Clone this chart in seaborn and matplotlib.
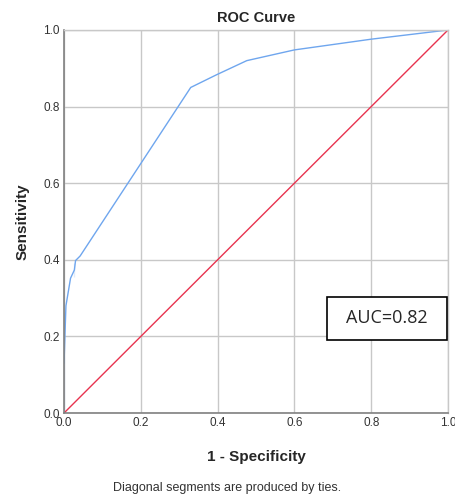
import matplotlib.pyplot as plt
import seaborn as sns
import pandas as pd
from matplotlib.patches import Rectangle

# ROC points
fpr = [0.0, 0.0, 0.005, 0.017, 0.027, 0.027, 0.030, 0.042, 0.33, 0.397, 0.476, 0.60, 0.80, 1.0]
tpr = [0.0, 0.26, 0.28, 0.352, 0.356, 0.391, 0.398, 0.41, 0.85, 0.883, 0.920, 0.948, 0.976, 1.0]
ref_line = [0.0, 1.0]
auc_text = "AUC=0.82"

roc = pd.DataFrame({"fpr": fpr, "tpr": tpr})
ref = pd.DataFrame({"x": ref_line, "y": ref_line})

sns.set_style("whitegrid")
plt.rcParams['font.family'] = ['Liberation Sans', 'DejaVu Sans']

fig = plt.figure(figsize=(4.55, 4.99), dpi=100)
ax = fig.add_axes([0.1407, 0.1723, 0.8439, 0.7676])

sns.lineplot(data=roc, x="fpr", y="tpr", sort=False, color="#6fa6ee", linewidth=1.0, ax=ax)
sns.lineplot(data=ref, x="x", y="y", sort=False, color="#e8334f", linewidth=1.0, ax=ax)

ax.set_xlim(0, 1)
ax.set_ylim(0, 1)
ticks = [0.0, 0.2, 0.4, 0.6, 0.8, 1.0]
ax.set_xticks(ticks)
ax.set_yticks(ticks)
ax.set_xticklabels([f"{t:.1f}" for t in ticks], fontsize=8.5, color="#333333")
ax.set_yticklabels([f"{t:.1f}" for t in ticks], fontsize=8.5, color="#333333")
ax.tick_params(axis='both', length=0, pad=3)
ax.grid(True, color="#c8c8c8", linewidth=1.0)
for s in ["top", "right"]:
    ax.spines[s].set_color("#c8c8c8")
    ax.spines[s].set_linewidth(1.0)
for s in ["left", "bottom"]:
    ax.spines[s].set_color("#808080")
    ax.spines[s].set_linewidth(1.2)

ax.set_title("ROC Curve", fontsize=10.5, fontweight="bold", pad=6)
ax.set_xlabel("1 - Specificity", fontsize=11, fontweight="bold", labelpad=15)
ax.set_ylabel("Sensitivity", fontsize=11, fontweight="bold", labelpad=10)

# AUC annotation box
ax.add_patch(Rectangle((0.685, 0.191), 0.312, 0.112, transform=ax.transData,
                       facecolor="white", edgecolor="black", linewidth=1.2, zorder=5))
ax.text(0.841, 0.247, auc_text, fontsize=13, family=['Open Sans', 'DejaVu Sans'],
        ha="center", va="center", zorder=6)

fig.text(0.5, 0.022, "Diagonal segments are produced by ties.", ha="center", va="center",
         fontsize=9, color="#333333")

fig.savefig("out.png", dpi=100)
